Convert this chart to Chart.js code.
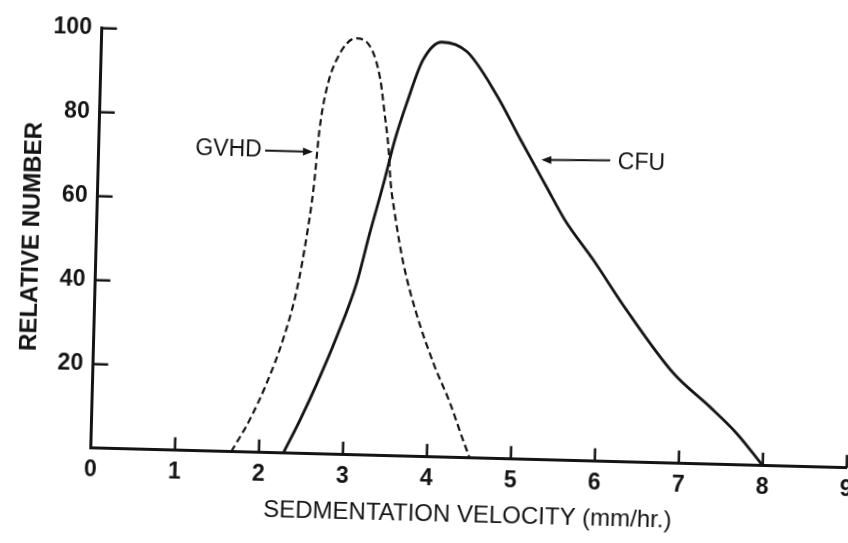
<!DOCTYPE html>
<html>
<head>
<meta charset="utf-8">
<script src="https://cdn.jsdelivr.net/npm/chart.js@4.4.1/dist/chart.umd.min.js"></script>
<style>
  html, body { margin: 0; padding: 0; background: #fff; overflow: hidden; width: 848px; height: 543px; }
  /* the scanned figure sits slightly tilted on the page */
  #wrap { position: absolute; left: -50px; top: -50px; width: 948px; height: 643px; transform: rotate(1.5deg); }
</style>
</head>
<body>
<div id="wrap"><canvas id="chart" width="948" height="643"></canvas></div>
<script>
// values
var gvhdVelocity = [1.67, 1.88, 2.07, 2.25, 2.40, 2.50, 2.57, 2.62, 2.69, 2.82, 3.03, 3.22, 3.33, 3.39, 3.45, 3.48, 3.55, 3.66, 3.83, 4.05, 4.26, 4.41, 4.51];
var gvhdNumber   = [0, 7.7, 16.5, 26.9, 38.9, 51.6, 63.6, 77.1, 86.7, 94.7, 99.2, 96.5, 89.4, 81.5, 72.8, 65.7, 56.9, 45.9, 34.1, 22.3, 12.9, 5.0, 0];

var cfuVelocity = [2.29, 2.48, 2.67, 2.89, 3.11, 3.25, 3.40, 3.52, 3.65, 3.83, 4.05, 4.35, 4.72, 5.01, 5.34, 5.57, 5.92, 6.33, 6.91, 7.35, 7.68, 8.0];
var cfuNumber   = [0, 8.0, 16.8, 28.0, 40.9, 52.8, 64.8, 75.2, 84.0, 94.4, 98.8, 96.7, 86.5, 76.3, 65.0, 57.2, 47.9, 36.2, 21.4, 13.7, 7.5, 0];

var xTickValues = [0, 1, 2, 3, 4, 5, 6, 7, 8, 9];
var yTickValues = [20, 40, 60, 80, 100];

var ink = '#141414';
var family = '"Liberation Sans", Arial, sans-serif';

// curve labels with arrows, in data units
var callouts = [
  { text: 'GVHD', textX: 1.94, textY: 72.0, align: 'right', fromX: 1.98, fromY: 71.9, toX: 2.55, toY: 71.9 },
  { text: 'CFU',  textX: 6.18, textY: 71.1, align: 'left',  fromX: 6.09, fromY: 71.7, toX: 5.27, toY: 71.4 }
];

function points(xs, ys) {
  return xs.map(function (v, i) { return { x: v, y: ys[i] }; });
}

var axisMarks = {
  id: 'axisMarks',
  afterDraw: function (chart) {
    var ctx = chart.ctx;
    var xs = chart.scales.x, ys = chart.scales.y;
    var x0 = xs.getPixelForValue(0), y0 = ys.getPixelForValue(0);
    ctx.save();
    ctx.strokeStyle = ink;
    ctx.fillStyle = ink;
    ctx.lineWidth = 2.5;
    ctx.beginPath();
    yTickValues.forEach(function (v) {
      var py = ys.getPixelForValue(v);
      ctx.moveTo(x0, py);
      ctx.lineTo(x0 + 15, py);
    });
    xTickValues.forEach(function (v) {
      if (v === 0) return;
      var px = xs.getPixelForValue(v);
      ctx.moveTo(px, y0);
      ctx.lineTo(px, y0 - 13);
    });
    ctx.stroke();

    ctx.font = '23px ' + family;
    ctx.textBaseline = 'middle';
    ctx.lineWidth = 2;
    callouts.forEach(function (c) {
      ctx.textAlign = c.align;
      ctx.fillText(c.text, xs.getPixelForValue(c.textX), ys.getPixelForValue(c.textY));
      var ax = xs.getPixelForValue(c.fromX), ay = ys.getPixelForValue(c.fromY);
      var bx = xs.getPixelForValue(c.toX), by = ys.getPixelForValue(c.toY);
      var ang = Math.atan2(by - ay, bx - ax);
      ctx.beginPath();
      ctx.moveTo(ax, ay);
      ctx.lineTo(bx - 6 * Math.cos(ang), by - 6 * Math.sin(ang));
      ctx.stroke();
      ctx.beginPath();
      ctx.moveTo(bx, by);
      ctx.lineTo(bx - 10 * Math.cos(ang) + 4 * Math.sin(ang), by - 10 * Math.sin(ang) - 4 * Math.cos(ang));
      ctx.lineTo(bx - 10 * Math.cos(ang) - 4 * Math.sin(ang), by - 10 * Math.sin(ang) + 4 * Math.cos(ang));
      ctx.closePath();
      ctx.fill();
    });
    ctx.restore();
  }
};

var chart = new Chart(document.getElementById('chart'), {
  type: 'line',
  data: {
    datasets: [
      {
        label: 'GVHD',
        data: points(gvhdVelocity, gvhdNumber),
        borderColor: ink,
        borderWidth: 2.2,
        borderDash: [7, 4],
        pointRadius: 0,
        fill: false,
        tension: 0.4,
        cubicInterpolationMode: 'monotone'
      },
      {
        label: 'CFU',
        data: points(cfuVelocity, cfuNumber),
        borderColor: ink,
        borderWidth: 2.8,
        pointRadius: 0,
        fill: false,
        tension: 0.4,
        cubicInterpolationMode: 'monotone'
      }
    ]
  },
  options: {
    responsive: false,
    animation: false,
    devicePixelRatio: 1,
    layout: { padding: { left: 0, right: 46.3, top: 86.7, bottom: 0 } },
    plugins: { legend: { display: false }, tooltip: { enabled: false } },
    scales: {
      x: {
        type: 'linear',
        min: 0,
        max: 9,
        grid: { display: false, drawTicks: false },
        border: { display: true, width: 3, color: ink },
        ticks: { color: ink, padding: 8, font: { family: family, size: 23, weight: 'bold' } },
        afterBuildTicks: function (s) { s.ticks = xTickValues.map(function (v) { return { value: v }; }); },
        afterFit: function (s) { s.height = 136.3; },
        title: {
          display: true,
          text: 'SEDMENTATION VELOCITY (mm/hr.)',
          color: ink,
          font: { family: family, size: 24 },
          padding: { top: 0, bottom: 64 }
        }
      },
      y: {
        min: 0,
        max: 100,
        grid: { display: false, drawTicks: false },
        border: { display: true, width: 3, color: ink },
        ticks: { color: ink, padding: 10, font: { family: family, size: 23, weight: 'bold' } },
        afterBuildTicks: function (s) { s.ticks = yTickValues.map(function (v) { return { value: v }; }); },
        afterFit: function (s) { s.width = 145.7; },
        title: {
          display: true,
          text: 'RELATIVE NUMBER',
          color: ink,
          font: { family: family, size: 24, weight: 'bold' },
          padding: { top: 66.5, bottom: 0 }
        }
      }
    }
  },
  plugins: [axisMarks]
});
</script>
</body>
</html>
